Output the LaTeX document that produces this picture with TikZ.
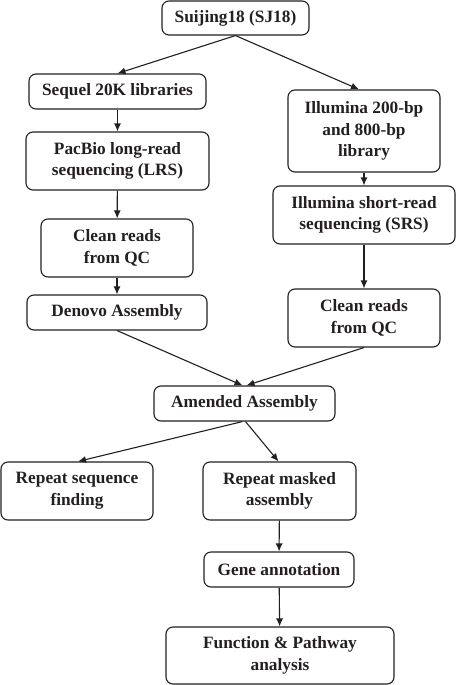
\documentclass[tikz,border=0pt]{standalone}
\usepackage{fontspec}
\setmainfont{Liberation Serif}
\usetikzlibrary{arrows.meta,calc}
\definecolor{ink}{HTML}{231F20}
\begin{document}
\begin{tikzpicture}[x=1pt,y=-1pt,
  box/.style={draw=ink,line width=1.1pt,rounded corners=7pt,inner sep=0pt,align=center,
    font=\fontsize{17.3}{21.7}\selectfont\bfseries,text=ink},
  arr/.style={draw=ink,line width=1.1pt,-{Latex[length=8pt,width=7pt]}}]
\useasboundingbox (0,0) rectangle (456,685);
\node[box,minimum width=147pt,minimum height=34pt] (s0) at (235.5,18) {Suijing18 (SJ18)};
\node[box,minimum width=177pt,minimum height=35pt] (lib) at (117.5,91.5) {Sequel 20K libraries};
\node[box,minimum width=183pt,minimum height=58pt] (pac) at (117.5,161) {PacBio long-read\\sequencing (LRS)};
\node[box,minimum width=152pt,minimum height=82pt] (ill) at (364,131) {Illumina 200-bp\\and 800-bp\\library};
\node[box,minimum width=182pt,minimum height=58pt] (srs) at (364,215) {Illumina short-read\\sequencing (SRS)};
\node[box,minimum width=152pt,minimum height=58pt] (cl) at (117,248) {Clean reads\\from QC};
\node[box,minimum width=180pt,minimum height=35pt] (den) at (117,312.5) {Denovo Assembly};
\node[box,minimum width=152pt,minimum height=58pt] (cr) at (364,318) {Clean reads\\from QC};
\node[box,minimum width=181pt,minimum height=35pt] (am) at (244.5,403.5) {Amended Assembly};
\node[box,minimum width=152pt,minimum height=58pt] (rs) at (77,491) {Repeat sequence\\finding};
\node[box,minimum width=153pt,minimum height=58pt] (rm) at (279.5,491) {Repeat masked\\assembly};
\node[box,minimum width=150pt,minimum height=35pt] (gene) at (279,569.5) {Gene annotation};
\node[box,minimum width=228pt,minimum height=57pt] (fun) at (280,655.5) {Function \& Pathway\\analysis};
\draw[arr] (s0.south) -- (lib.north);
\draw[arr] (s0.south) -- ([xshift=-5pt]ill.north);
\draw[arr] (lib) -- (pac);
\draw[arr] (pac) -- (cl);
\draw[arr] (cl) -- (den);
\draw[arr] (ill) -- (srs);
\draw[arr] (srs) -- (cr);
\draw[arr] (den.south) -- ([xshift=-2pt]am.north);
\draw[arr] (cr.south) -- ([xshift=2pt]am.north);
\draw[arr] ([xshift=-2pt]am.south) -- ([xshift=1pt]rs.north);
\draw[arr] ([xshift=1pt]am.south) -- ([xshift=-1pt]rm.north);
\draw[arr] (rm) -- (gene);
\draw[arr] (gene) -- (fun);
\end{tikzpicture}
\end{document}
